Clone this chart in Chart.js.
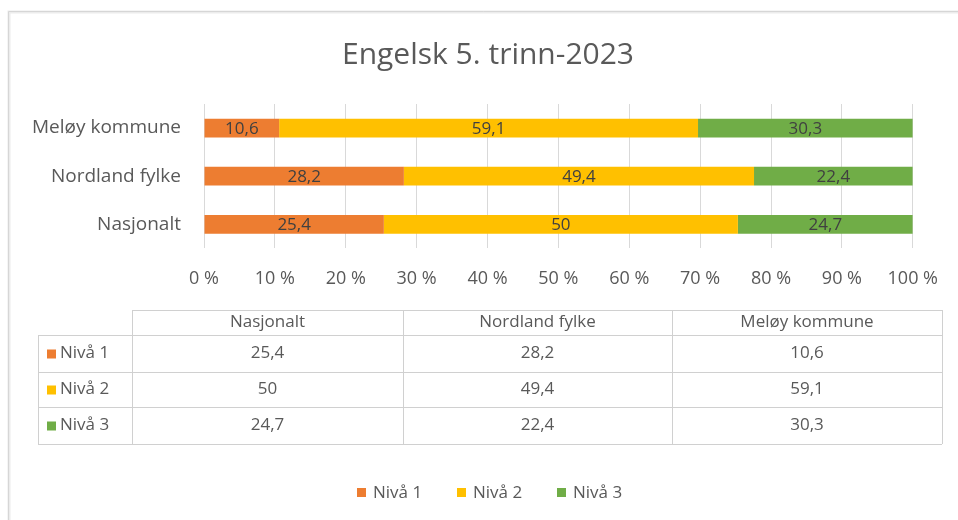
<!DOCTYPE html>
<html>
<head>
<meta charset="utf-8">
<script src="https://cdn.jsdelivr.net/npm/chart.js@4"></script>
<style>
  html, body { margin: 0; padding: 0; background: #fff; }
  #wrap { position: relative; width: 958px; height: 520px; }
</style>
</head>
<body>
<div id="wrap"><canvas id="chart1" width="958" height="520"></canvas></div>
<script>
// Data
var chartTitle = "Engelsk 5. trinn-2023";
var places = ["Nasjonalt", "Nordland fylke", "Meløy kommune"];
var levelNames = ["Nivå 1", "Nivå 2", "Nivå 3"];
var niva1 = [25.4, 28.2, 10.6];
var niva2 = [50, 49.4, 59.1];
var niva3 = [24.7, 22.4, 30.3];
var levels = [niva1, niva2, niva3];
var colors = ["#ED7D31", "#FFC000", "#70AD47"];

var FONT = "'Open Sans', sans-serif";
var TEXT = "#595959";

function fmt(v) {
  return String(v).replace(".", ",");
}

// 100 % stacked: share of each level in its place
function share(arr) {
  return arr.map(function (v, i) {
    var sum = niva1[i] + niva2[i] + niva3[i];
    return (v / sum) * 100;
  });
}

var datasets = levels.map(function (arr, k) {
  return {
    label: levelNames[k],
    data: share(arr),
    raw: arr,
    backgroundColor: colors[k],
    barPercentage: 0.39,
    categoryPercentage: 1,
  };
});

// Frame and title
var framePlugin = {
  id: "frame",
  beforeDraw: function (chart) {
    var ctx = chart.ctx;
    ctx.save();
    ctx.fillStyle = "#fff";
    ctx.fillRect(0, 0, chart.width, chart.height);
    ctx.strokeStyle = "#ececec";
    ctx.lineWidth = 3;
    ctx.beginPath();
    ctx.moveTo(9, chart.height);
    ctx.lineTo(9, 12);
    ctx.lineTo(chart.width, 12);
    ctx.stroke();
    ctx.strokeStyle = "#d6d6d6";
    ctx.lineWidth = 1;
    ctx.beginPath();
    ctx.moveTo(8.5, chart.height);
    ctx.lineTo(8.5, 11.5);
    ctx.lineTo(chart.width, 11.5);
    ctx.stroke();

    ctx.font = "30px " + FONT;
    ctx.fillStyle = TEXT;
    ctx.textAlign = "center";
    ctx.textBaseline = "middle";
    ctx.fillText(chartTitle, 488, 55);
    ctx.restore();
  },
};

// Value labels in the middle of each bar segment
var barLabels = {
  id: "barLabels",
  afterDatasetsDraw: function (chart) {
    var ctx = chart.ctx;
    ctx.save();
    ctx.font = "17px " + FONT;
    ctx.fillStyle = "#404040";
    ctx.textAlign = "center";
    ctx.textBaseline = "middle";
    chart.data.datasets.forEach(function (ds, k) {
      var meta = chart.getDatasetMeta(k);
      meta.data.forEach(function (el, i) {
        ctx.fillText(fmt(ds.raw[i]), (el.x + el.base) / 2, el.y + 1);
      });
    });
    ctx.restore();
  },
};

// Data table under the axis and the legend at the bottom
var dataTable = {
  id: "dataTable",
  afterDraw: function (chart) {
    var ctx = chart.ctx;
    var colX = [38, 132, 403, 672, 942];
    var rowY = [310, 335, 372, 407, 444];
    ctx.save();
    ctx.strokeStyle = "#d0d0d0";
    ctx.lineWidth = 1;
    ctx.beginPath();
    ctx.moveTo(colX[1], rowY[0] + 0.5);
    ctx.lineTo(colX[4], rowY[0] + 0.5);
    for (var r = 1; r < rowY.length; r++) {
      ctx.moveTo(colX[0], rowY[r] + 0.5);
      ctx.lineTo(colX[4], rowY[r] + 0.5);
    }
    ctx.moveTo(colX[0] + 0.5, rowY[1]);
    ctx.lineTo(colX[0] + 0.5, rowY[4]);
    for (var c = 1; c < colX.length; c++) {
      ctx.moveTo(colX[c] + 0.5, rowY[0]);
      ctx.lineTo(colX[c] + 0.5, rowY[4]);
    }
    ctx.stroke();

    ctx.font = "17px " + FONT;
    ctx.fillStyle = TEXT;
    ctx.textAlign = "center";
    ctx.textBaseline = "middle";
    places.forEach(function (p, i) {
      ctx.fillText(p, (colX[i + 1] + colX[i + 2]) / 2, (rowY[0] + rowY[1]) / 2);
    });
    levels.forEach(function (arr, k) {
      var cy = (rowY[k + 1] + rowY[k + 2]) / 2;
      ctx.fillStyle = colors[k];
      ctx.fillRect(47, cy - 4, 9, 9);
      ctx.fillStyle = TEXT;
      ctx.textAlign = "left";
      ctx.fillText(levelNames[k], 60, cy);
      ctx.textAlign = "center";
      arr.forEach(function (v, i) {
        ctx.fillText(fmt(v), (colX[i + 1] + colX[i + 2]) / 2, cy);
      });
    });

    // legend
    var lx = [357, 457, 557];
    levelNames.forEach(function (name, k) {
      ctx.fillStyle = colors[k];
      ctx.fillRect(lx[k], 488, 9, 9);
      ctx.fillStyle = TEXT;
      ctx.textAlign = "left";
      ctx.fillText(name, lx[k] + 16, 493);
    });
    ctx.restore();
  },
};

var chart1 = new Chart(document.getElementById("chart1"), {
  type: "bar",
  data: {
    labels: places,
    datasets: datasets,
  },
  options: {
    indexAxis: "y",
    responsive: false,
    animation: false,
    devicePixelRatio: 1,
    layout: {
      padding: { left: 0, right: 42, top: 104, bottom: 210 },
    },
    scales: {
      x: {
        stacked: true,
        min: 0,
        max: 100,
        ticks: {
          stepSize: 10,
          padding: 20,
          color: TEXT,
          font: { family: FONT, size: 18 },
          callback: function (v) {
            return v + " %";
          },
        },
        grid: { color: "#d9d9d9", drawTicks: false },
        border: { display: false },
      },
      y: {
        stacked: true,
        reverse: true,
        ticks: {
          padding: 15,
          color: TEXT,
          font: { family: FONT, size: 19 },
        },
        grid: { display: false },
        border: { display: false },
        afterFit: function (scale) {
          scale.width = 204;
        },
      },
    },
    plugins: {
      legend: { display: false },
      tooltip: { enabled: false },
      title: { display: false },
    },
  },
  plugins: [framePlugin, barLabels, dataTable],
});
</script>
</body>
</html>
